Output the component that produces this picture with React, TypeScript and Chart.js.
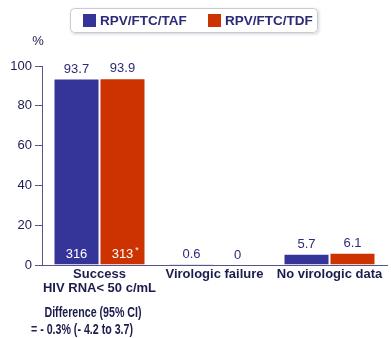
import React, { useEffect, useRef } from "react";
import { Chart, registerables } from "chart.js";

Chart.register(...registerables);

const categories: (string | string[])[] = [
  ["Success", "HIV RNA< 50 c/mL"],
  "Virologic failure",
  "No virologic data",
];
const seriesNames = ["RPV/FTC/TAF", "RPV/FTC/TDF"];
const tafValues = [93.7, 0.6, 5.7];
const tdfValues = [93.9, 0, 6.1];
const tafN = "316";
const tdfN = "313";
const yTicks = [0, 20, 40, 60, 80, 100];
const diffLines = ["Difference (95% CI)", "= - 0.3% (- 4.2 to 3.7)"];

const BLUE = "#343499";
const RED = "#cc3300";
const NAVY = "#2b2b78";
const DARK = "#1c1c4e";
const FONT = "'Liberation Sans', Arial, sans-serif";

const overlayPlugin = {
  id: "overlay",
  afterDraw(chart: any) {
    const ctx = chart.ctx;
    const y = chart.scales.y;
    ctx.save();
    // legend box
    const bx = 70, by = 8, bw = 248, bh = 25;
    ctx.shadowColor = "rgba(0,0,0,0.18)";
    ctx.shadowBlur = 3;
    ctx.shadowOffsetX = 1;
    ctx.shadowOffsetY = 1;
    ctx.fillStyle = "#ffffff";
    ctx.beginPath();
    ctx.roundRect(bx, by, bw, bh, 4);
    ctx.fill();
    ctx.shadowColor = "transparent";
    ctx.strokeStyle = "#c9c9d9";
    ctx.lineWidth = 1;
    ctx.beginPath();
    ctx.roundRect(bx + 0.5, by + 0.5, bw - 1, bh - 1, 4);
    ctx.stroke();
    const items = [
      { x: 83, label: chart.data.datasets[0].label, color: chart.data.datasets[0].backgroundColor },
      { x: 208, label: chart.data.datasets[1].label, color: chart.data.datasets[1].backgroundColor },
    ];
    ctx.font = `bold 13.5px ${FONT}`;
    ctx.textBaseline = "middle";
    ctx.textAlign = "left";
    for (const it of items) {
      ctx.fillStyle = it.color;
      ctx.fillRect(it.x, 14, 13, 13);
      ctx.fillStyle = NAVY;
      ctx.fillText(it.label, it.x + 17, 21);
    }
    // % label
    ctx.font = `13px ${FONT}`;
    ctx.fillStyle = DARK;
    ctx.textAlign = "center";
    ctx.fillText("%", 38, 41);

    // value labels
    chart.data.datasets.forEach((ds: any, di: number) => {
      const meta = chart.getDatasetMeta(di);
      meta.data.forEach((bar: any, i: number) => {
        const v = ds.data[i];
        ctx.font = `13px ${FONT}`;
        ctx.fillStyle = NAVY;
        ctx.textAlign = "center";
        ctx.textBaseline = "bottom";
        ctx.fillText(String(v), bar.x, bar.y - 3);
      });
      // counts inside first bar
      const b0 = meta.data[0];
      ctx.font = `13px ${FONT}`;
      ctx.fillStyle = "#ffffff";
      ctx.textBaseline = "middle";
      ctx.textAlign = "center";
      const ty = y.getPixelForValue(0) - 11;
      if (di === 0) {
        ctx.fillText(tafN, b0.x, ty);
      } else {
        ctx.fillText(tdfN, b0.x, ty);
        const w = ctx.measureText(tdfN).width;
        ctx.font = `9px ${FONT}`;
        ctx.textAlign = "left";
        ctx.fillText("*", b0.x + w / 2 + 2, ty - 3);
      }
    });

    // difference text (condensed bold)
    ctx.font = `bold 15px ${FONT}`;
    ctx.fillStyle = DARK;
    ctx.textAlign = "center";
    ctx.textBaseline = "middle";
    const sx = 0.71;
    ctx.save();
    ctx.scale(sx, 1);
    ctx.fillText(diffLines[0], 93 / sx, 313);
    ctx.fillText(diffLines[1], 82 / sx, 330);
    ctx.restore();
    ctx.restore();
  },
};

export default function App() {
  const ref = useRef<HTMLCanvasElement>(null);
  useEffect(() => {
    if (!ref.current) return;
    const chart = new Chart(ref.current, {
      type: "bar",
      data: {
        labels: categories,
        datasets: [
          {
            label: seriesNames[0],
            data: tafValues,
            backgroundColor: BLUE,
            borderColor: "#ffffff",
            borderWidth: 1,
            categoryPercentage: 0.8,
            barPercentage: 1,
          },
          {
            label: seriesNames[1],
            data: tdfValues,
            backgroundColor: RED,
            borderColor: "#ffffff",
            borderWidth: 1,
            categoryPercentage: 0.8,
            barPercentage: 1,
          },
        ],
      },
      options: {
        animation: false,
        responsive: false,
        devicePixelRatio: 1,
        layout: { padding: { top: 66, right: 4, left: 0, bottom: 0 } },
        plugins: {
          legend: { display: false },
          tooltip: { enabled: false },
        },
        scales: {
          x: {
            offset: true,
            grid: { display: false, drawTicks: false },
            border: { display: true, color: "#55558a", width: 1 },
            ticks: {
              color: DARK,
              font: { family: FONT, size: 13, weight: "bold", lineHeight: 1.12 },
              padding: 2,
              maxRotation: 0,
              autoSkip: false,
            },
            afterFit(scale: any) {
              scale.height = 73;
            },
          },
          y: {
            min: 0,
            max: 100,
            afterBuildTicks(scale: any) {
              scale.ticks = yTicks.map((v) => ({ value: v }));
            },
            grid: {
              drawOnChartArea: false,
              drawTicks: true,
              tickLength: 7,
              color: "#55558a",
            },
            border: { display: true, color: "#55558a", width: 1 },
            ticks: {
              color: DARK,
              font: { family: FONT, size: 13 },
              padding: 3,
            },
            afterFit(scale: any) {
              scale.width = 42;
            },
          },
        },
      },
      plugins: [overlayPlugin],
    });
    return () => chart.destroy();
  }, []);
  return (
    <div style={{ position: "fixed", left: 0, top: 0, width: 391, height: 338, background: "#fff" }}>
      <canvas ref={ref} width={391} height={338} style={{ width: 391, height: 338 }} />
    </div>
  );
}
